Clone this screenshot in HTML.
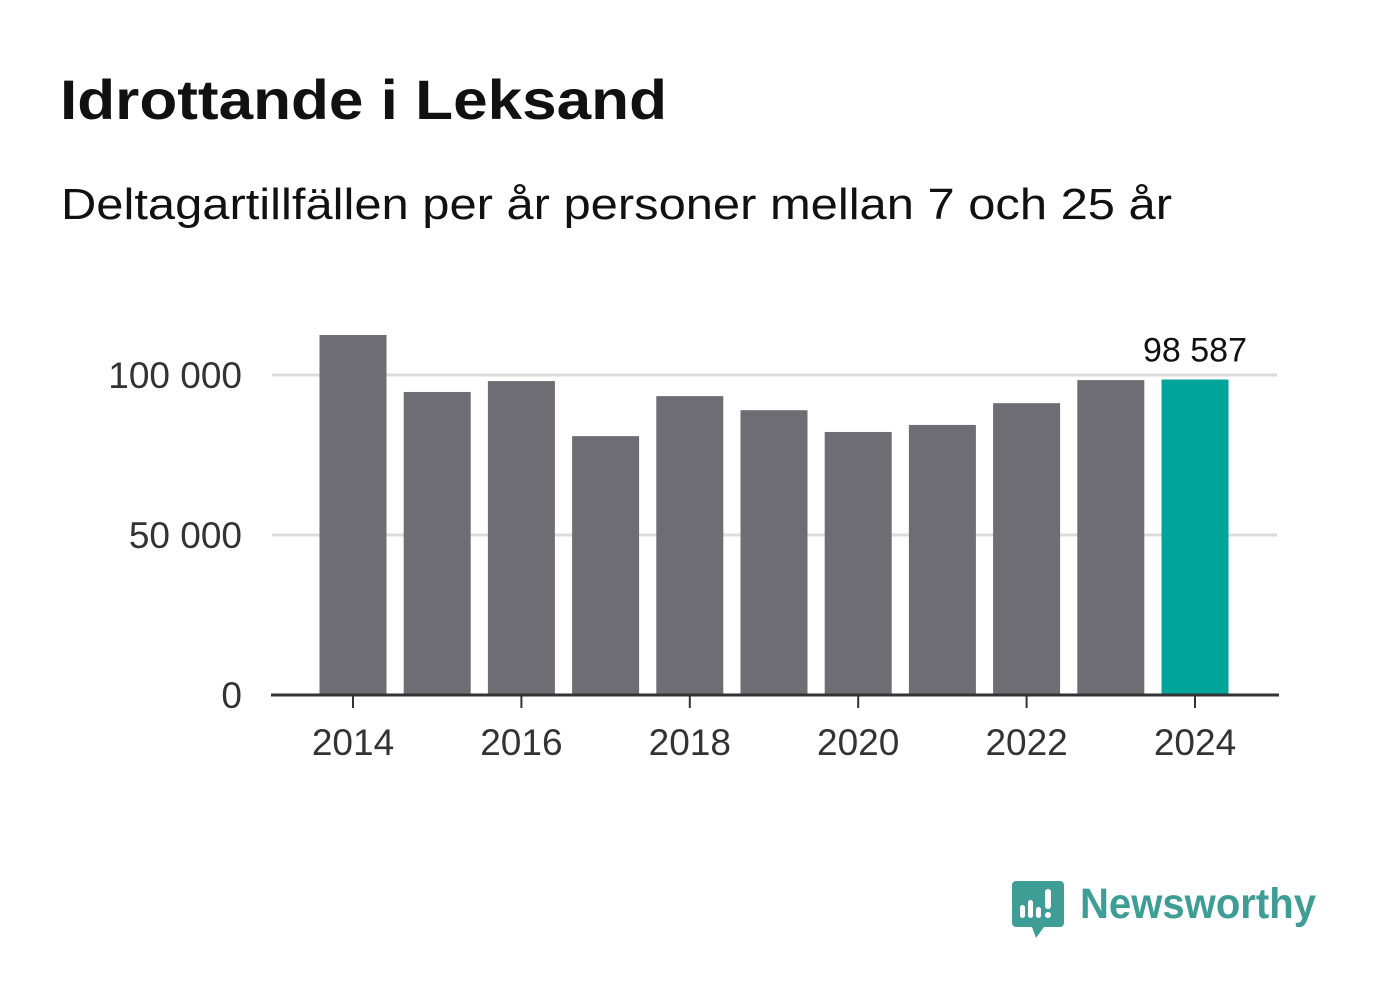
<!DOCTYPE html>
<html><head><meta charset="utf-8">
<style>
html,body{margin:0;padding:0;background:#fff;}
body{width:1382px;height:999px;overflow:hidden;font-family:"Liberation Sans",sans-serif;}
</style></head>
<body>
<svg id="chart" width="1382" height="999" xmlns="http://www.w3.org/2000/svg">
<text x="60" y="119" font-size="56" font-weight="bold" fill="#111" textLength="607" lengthAdjust="spacingAndGlyphs">Idrottande i Leksand</text>
<text x="61" y="219" font-size="44" fill="#111" textLength="1111" lengthAdjust="spacingAndGlyphs">Deltagartillfällen per år personer mellan 7 och 25 år</text>
<g id="grid"></g>
<g id="bars"></g>
<g id="axes"></g>
<g>
<path d="M1016 881 h44 a4 4 0 0 1 4 4 v38 a4 4 0 0 1 -4 4 h-16 l-8 11 l-4 -11 h-16 a4 4 0 0 1 -4 -4 v-38 a4 4 0 0 1 4 -4z" fill="#3e9e95"/>
<rect x="1020" y="905" width="5" height="13" rx="2.5" fill="#fff"/>
<rect x="1028" y="900" width="5" height="18" rx="2.5" fill="#fff"/>
<rect x="1036" y="907" width="5" height="11" rx="2.5" fill="#fff"/>
<rect x="1045" y="889" width="6" height="20" rx="3" fill="#fff"/>
<circle cx="1048" cy="915" r="3" fill="#fff"/>
<text x="1080" y="918" font-size="43" font-weight="bold" fill="#3e9e95" textLength="236" lengthAdjust="spacingAndGlyphs">Newsworthy</text>
</g>
</svg>
<script>
const years=[2014,2015,2016,2017,2018,2019,2020,2021,2022,2023,2024];
const values=[112500,94700,98100,80900,93400,89000,82200,84400,91200,98400,98587];
const yTicks=[0,50000,100000];
const yTickLabels=["0","50 000","100 000"];
const xTickYears=[2014,2016,2018,2020,2022,2024];
const highlightLabel="98 587";

const NS="http://www.w3.org/2000/svg";
const y0=695, pxPer=320/100000;
const yScale=v=>y0-v*pxPer;
const xScale=yr=>353+(yr-2014)*84.2;
const bw=67;
function mk(tag,attrs,parent){const e=document.createElementNS(NS,tag);for(const k in attrs)e.setAttribute(k,attrs[k]);parent.appendChild(e);return e;}
const grid=document.getElementById('grid'),bars=document.getElementById('bars'),axes=document.getElementById('axes');
yTicks.forEach((t,i)=>{
  if(t>0){const l=mk('line',{x1:272,x2:1277,y1:yScale(t),y2:yScale(t),stroke:'#dcdcdc','stroke-width':3},grid);
  
  }
  const tx=mk('text',{x:242,y:yScale(t)+13,'font-size':37,fill:'#333','text-anchor':'end'},axes);
  tx.textContent=yTickLabels[i];
  
  
});
years.forEach((yr,i)=>{
  const last=i===years.length-1;
  const r=mk('rect',{x:xScale(yr)-bw/2,y:yScale(values[i]),width:bw,height:values[i]*pxPer,fill:last?'#00a499':'#6e6d73'},bars);
  
  
});
const lab=mk('text',{x:xScale(years[years.length-1]),y:yScale(values[values.length-1])-18,'font-size':34,fill:'#111','text-anchor':'middle'},axes);
lab.textContent=highlightLabel;


const ax=mk('line',{x1:271,x2:1279,y1:y0,y2:y0,stroke:'#333','stroke-width':3},axes);


xTickYears.forEach(yr=>{
  const t=mk('line',{x1:xScale(yr),x2:xScale(yr),y1:y0,y2:y0+13,stroke:'#333','stroke-width':2},axes);
  
  
  const tx=mk('text',{x:xScale(yr),y:755,'font-size':37,fill:'#333','text-anchor':'middle'},axes);
  tx.textContent=yr;
  
  
});
</script>
</body></html>
